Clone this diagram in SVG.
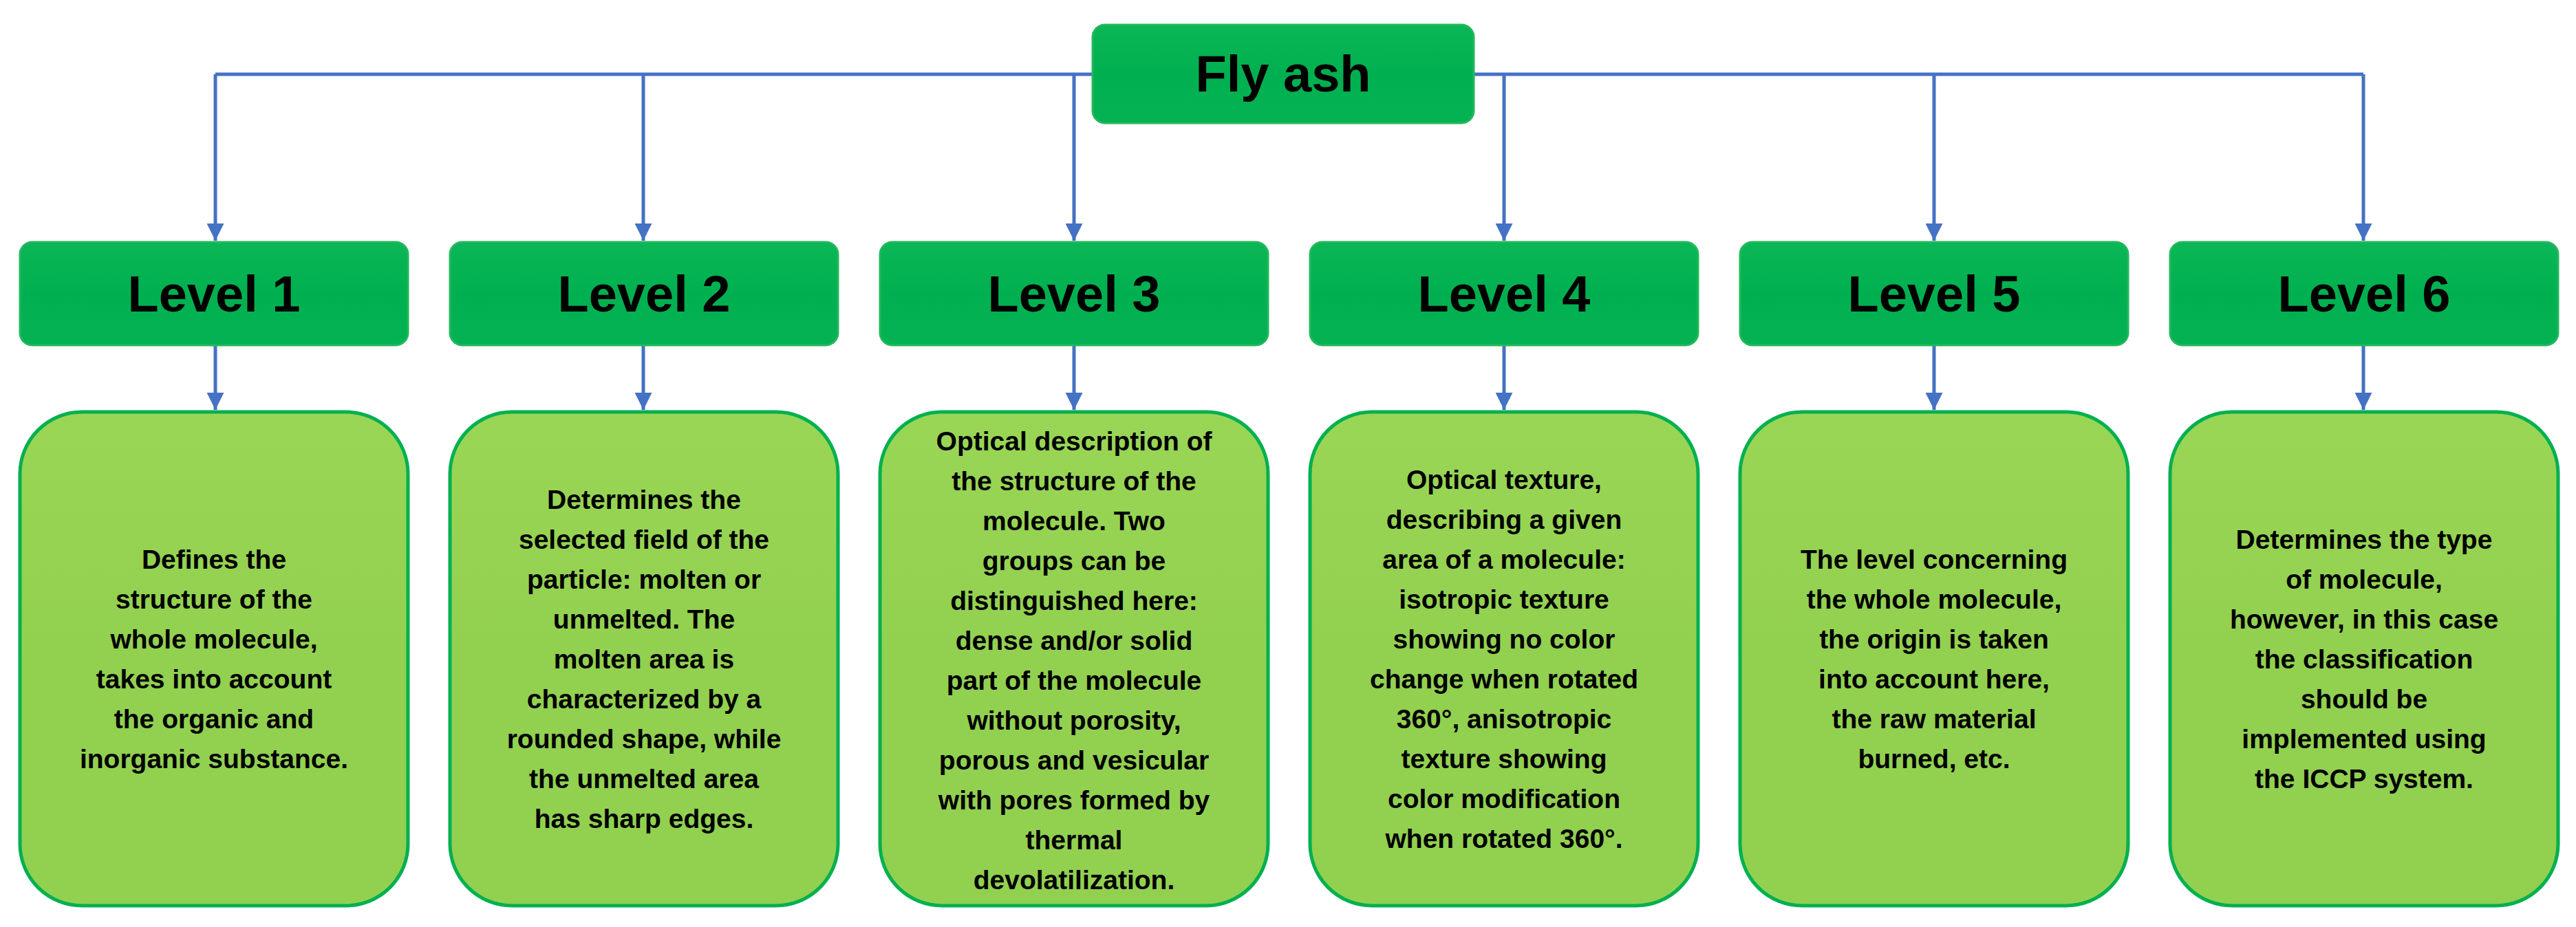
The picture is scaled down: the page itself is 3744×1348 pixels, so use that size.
<svg xmlns="http://www.w3.org/2000/svg" width="3744" height="1348" viewBox="0 0 3744 1348">
<defs>
<marker id="ah" viewBox="0 0 10 10" refX="10" refY="5" markerWidth="5" markerHeight="5" orient="auto" markerUnits="strokeWidth"><path d="M0,0 L10,5 L0,10 z" fill="#4472C4"/></marker>
<linearGradient id="gd" x1="0" y1="0" x2="0" y2="1"><stop offset="0" stop-color="#0BB656"/><stop offset="0.5" stop-color="#00B050"/><stop offset="1" stop-color="#05B253"/></linearGradient>
<linearGradient id="gl" x1="0" y1="0" x2="0" y2="1"><stop offset="0" stop-color="#9AD655"/><stop offset="0.5" stop-color="#92D050"/><stop offset="1" stop-color="#92D050"/></linearGradient>
</defs>
<style>
.c{fill:none;stroke:#4472C4;stroke-width:5}
.h{fill:url(#gd);stroke:#22B85C;stroke-width:3}
.b{fill:url(#gl);stroke:#00B050;stroke-width:5}
.t{font-family:"Liberation Sans",Arial,sans-serif;font-weight:bold;fill:#000;text-anchor:middle}
.hl{font-size:74px}
.bt{font-size:39px}
</style>
<rect width="3744" height="1348" fill="#fff"/>
<g id="connectors">
<path class="c" d="M313,108 H3435"/>
<path class="c" d="M313,108 V350" marker-end="url(#ah)"/>
<path class="c" d="M935,108 V350" marker-end="url(#ah)"/>
<path class="c" d="M1561,108 V350" marker-end="url(#ah)"/>
<path class="c" d="M2186,108 V350" marker-end="url(#ah)"/>
<path class="c" d="M2811,108 V350" marker-end="url(#ah)"/>
<path class="c" d="M3435,108 V350" marker-end="url(#ah)"/>
<path class="c" d="M313,502 V596" marker-end="url(#ah)"/>
<path class="c" d="M935,502 V596" marker-end="url(#ah)"/>
<path class="c" d="M1561,502 V596" marker-end="url(#ah)"/>
<path class="c" d="M2186,502 V596" marker-end="url(#ah)"/>
<path class="c" d="M2811,502 V596" marker-end="url(#ah)"/>
<path class="c" d="M3435,502 V596" marker-end="url(#ah)"/>
</g>
<g id="flyash"><rect class="h" x="1588" y="36" width="554" height="143" rx="18"/><text class="t hl" x="1865" y="133">Fly ash</text></g>
<g id="level1"><rect class="h" x="29" y="352" width="564" height="150" rx="18"/><text class="t hl" x="311" y="453">Level 1</text></g>
<g id="level2"><rect class="h" x="654" y="352" width="564" height="150" rx="18"/><text class="t hl" x="936" y="453">Level 2</text></g>
<g id="level3"><rect class="h" x="1279" y="352" width="564" height="150" rx="18"/><text class="t hl" x="1561" y="453">Level 3</text></g>
<g id="level4"><rect class="h" x="1904" y="352" width="564" height="150" rx="18"/><text class="t hl" x="2186" y="453">Level 4</text></g>
<g id="level5"><rect class="h" x="2529" y="352" width="564" height="150" rx="18"/><text class="t hl" x="2811" y="453">Level 5</text></g>
<g id="level6"><rect class="h" x="3154" y="352" width="564" height="150" rx="18"/><text class="t hl" x="3436" y="453">Level 6</text></g>
<g id="desc1"><rect class="b" x="29" y="599" width="564" height="718" rx="90"/>
<text class="t bt"><tspan x="311" y="827">Defines the</tspan><tspan x="311" y="885">structure of the</tspan><tspan x="311" y="943">whole molecule,</tspan><tspan x="311" y="1001">takes into account</tspan><tspan x="311" y="1059">the organic and</tspan><tspan x="311" y="1117">inorganic substance.</tspan></text></g>
<g id="desc2"><rect class="b" x="654" y="599" width="564" height="718" rx="90"/>
<text class="t bt"><tspan x="936" y="740">Determines the</tspan><tspan x="936" y="798">selected field of the</tspan><tspan x="936" y="856">particle: molten or</tspan><tspan x="936" y="914">unmelted. The</tspan><tspan x="936" y="972">molten area is</tspan><tspan x="936" y="1030">characterized by a</tspan><tspan x="936" y="1088">rounded shape, while</tspan><tspan x="936" y="1146">the unmelted area</tspan><tspan x="936" y="1204">has sharp edges.</tspan></text></g>
<g id="desc3"><rect class="b" x="1279" y="599" width="564" height="718" rx="90"/>
<text class="t bt"><tspan x="1561" y="655">Optical description of</tspan><tspan x="1561" y="713">the structure of the</tspan><tspan x="1561" y="771">molecule. Two</tspan><tspan x="1561" y="829">groups can be</tspan><tspan x="1561" y="887">distinguished here:</tspan><tspan x="1561" y="945">dense and/or solid</tspan><tspan x="1561" y="1003">part of the molecule</tspan><tspan x="1561" y="1061">without porosity,</tspan><tspan x="1561" y="1119">porous and vesicular</tspan><tspan x="1561" y="1177">with pores formed by</tspan><tspan x="1561" y="1235">thermal</tspan><tspan x="1561" y="1293">devolatilization.</tspan></text></g>
<g id="desc4"><rect class="b" x="1904" y="599" width="564" height="718" rx="90"/>
<text class="t bt"><tspan x="2186" y="711">Optical texture,</tspan><tspan x="2186" y="769">describing a given</tspan><tspan x="2186" y="827">area of a molecule:</tspan><tspan x="2186" y="885">isotropic texture</tspan><tspan x="2186" y="943">showing no color</tspan><tspan x="2186" y="1001">change when rotated</tspan><tspan x="2186" y="1059">360°, anisotropic</tspan><tspan x="2186" y="1117">texture showing</tspan><tspan x="2186" y="1175">color modification</tspan><tspan x="2186" y="1233">when rotated 360°.</tspan></text></g>
<g id="desc5"><rect class="b" x="2529" y="599" width="564" height="718" rx="90"/>
<text class="t bt"><tspan x="2811" y="827">The level concerning</tspan><tspan x="2811" y="885">the whole molecule,</tspan><tspan x="2811" y="943">the origin is taken</tspan><tspan x="2811" y="1001">into account here,</tspan><tspan x="2811" y="1059">the raw material</tspan><tspan x="2811" y="1117">burned, etc.</tspan></text></g>
<g id="desc6"><rect class="b" x="3154" y="599" width="564" height="718" rx="90"/>
<text class="t bt"><tspan x="3436" y="798">Determines the type</tspan><tspan x="3436" y="856">of molecule,</tspan><tspan x="3436" y="914">however, in this case</tspan><tspan x="3436" y="972">the classification</tspan><tspan x="3436" y="1030">should be</tspan><tspan x="3436" y="1088">implemented using</tspan><tspan x="3436" y="1146">the ICCP system.</tspan></text></g>
</svg>
